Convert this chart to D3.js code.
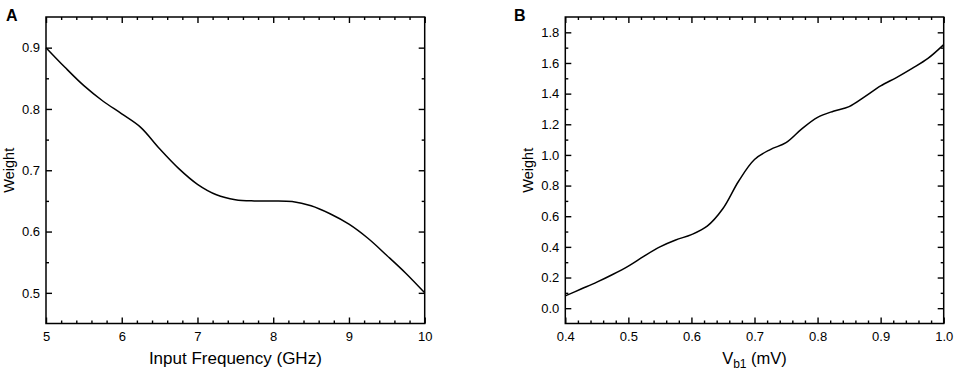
<!DOCTYPE html>
<html>
<head>
<meta charset="utf-8">
<script src="https://cdn.jsdelivr.net/npm/d3@7"></script>
<style>
  body { margin: 0; background: #fff; }
  svg { display: block; font-family: Arial, "Liberation Sans", sans-serif; }
</style>
</head>
<body>
<svg id="chart" width="957" height="373"></svg>
<script>
// Panel A: weight vs input frequency
const freqGHz = [5.0, 5.25, 5.5, 5.75, 6.0, 6.25, 6.5, 6.75, 7.0, 7.25, 7.5,
  7.75, 8.0, 8.25, 8.5, 8.75, 9.0, 9.25, 9.5, 9.75, 10.0];
const weightA = [0.900, 0.868, 0.838, 0.813, 0.792, 0.770, 0.735, 0.703, 0.677, 0.660, 0.652,
  0.650, 0.650, 0.649, 0.642, 0.629, 0.612, 0.589, 0.561, 0.532, 0.500];
const ticksA_x = [5, 6, 7, 8, 9, 10];
const ticksA_y = [0.5, 0.6, 0.7, 0.8, 0.9];

// Panel B: weight vs Vb1
const vb1 = [0.400, 0.425, 0.450, 0.475, 0.500, 0.525, 0.550, 0.575, 0.600, 0.625, 0.650,
  0.675, 0.700, 0.725, 0.750, 0.775, 0.800, 0.825, 0.850, 0.875, 0.900, 0.925, 0.950, 0.975, 1.000];
const weightB = [0.08, 0.125, 0.17, 0.22, 0.275, 0.34, 0.40, 0.445, 0.48, 0.535, 0.65,
  0.83, 0.97, 1.035, 1.08, 1.17, 1.245, 1.285, 1.315, 1.38, 1.45, 1.505, 1.565, 1.63, 1.72];
const ticksB_x = [0.4, 0.5, 0.6, 0.7, 0.8, 0.9, 1.0];
const ticksB_y = [0.0, 0.2, 0.4, 0.6, 0.8, 1.0, 1.2, 1.4, 1.6, 1.8];

const svg = d3.select('#chart');
const plotTop = 17, plotBottom = 323.5;

function drawPanel(opts) {
  const { left, right, xDomain, yDomain, xs, ys, xTicks, yTicks, xMinorStep, yMinorStep, xFmt, yFmt } = opts;

  const x = d3.scaleLinear().domain(xDomain).range([left, right]);
  const y = d3.scaleLinear().domain(yDomain).range([plotBottom, plotTop]);

  const g = svg.append('g');

  // minor tick values
  const xMinor = d3.range(xDomain[0], xDomain[1] + 1e-9, xMinorStep)
    .filter((v) => !xTicks.some((t) => Math.abs(t - v) < 1e-6));
  const yMinor = d3.range(yTicks[0] - yMinorStep, yDomain[1], yMinorStep)
    .filter((v) => v > yDomain[0] && !yTicks.some((t) => Math.abs(t - v) < 1e-6));

  const addAxis = (axis, transform) => {
    const a = g.append('g').attr('transform', transform).call(axis);
    a.select('.domain').remove();
    a.selectAll('line').attr('stroke', '#000').attr('stroke-width', 1.4);
    a.selectAll('text').attr('fill', '#000').style('font-size', '13px');
    return a;
  };

  // major ticks (pointing inside) on all four sides
  addAxis(d3.axisBottom(x).tickValues(xTicks).tickSize(-6).tickPadding(8.5).tickFormat(xFmt), `translate(0,${plotBottom})`);
  addAxis(d3.axisTop(x).tickValues(xTicks).tickSize(-6).tickFormat(''), `translate(0,${plotTop})`);
  addAxis(d3.axisLeft(y).tickValues(yTicks).tickSize(-6).tickPadding(6).tickFormat(yFmt), `translate(${left},0)`);
  addAxis(d3.axisRight(y).tickValues(yTicks).tickSize(-6).tickFormat(''), `translate(${right},0)`);

  // minor ticks
  addAxis(d3.axisBottom(x).tickValues(xMinor).tickSize(-3).tickFormat(''), `translate(0,${plotBottom})`);
  addAxis(d3.axisTop(x).tickValues(xMinor).tickSize(-3).tickFormat(''), `translate(0,${plotTop})`);
  addAxis(d3.axisLeft(y).tickValues(yMinor).tickSize(-3).tickFormat(''), `translate(${left},0)`);
  addAxis(d3.axisRight(y).tickValues(yMinor).tickSize(-3).tickFormat(''), `translate(${right},0)`);

  // frame
  g.append('rect')
    .attr('x', left).attr('y', plotTop)
    .attr('width', right - left).attr('height', plotBottom - plotTop)
    .attr('fill', 'none').attr('stroke', '#000').attr('stroke-width', 1.5);

  // curve
  const line = d3.line()
    .x((d) => x(d[0]))
    .y((d) => y(d[1]))
    .curve(d3.curveCatmullRom.alpha(0.5));

  g.append('path')
    .datum(d3.zip(xs, ys))
    .attr('d', line)
    .attr('fill', 'none')
    .attr('stroke', '#000')
    .attr('stroke-width', 1.5);

  // y label
  g.append('text')
    .attr('transform', `translate(${left - 32.5},${(plotTop + plotBottom) / 2}) rotate(-90)`)
    .attr('text-anchor', 'middle')
    .style('font-size', '14.5px')
    .text('Weight');

  return g;
}

const gA = drawPanel({
  left: 46, right: 424.7,
  xDomain: [5, 10], yDomain: [0.45, 0.95],
  xs: freqGHz, ys: weightA,
  xTicks: ticksA_x, yTicks: ticksA_y,
  xMinorStep: 0.2, yMinorStep: 0.05,
  xFmt: d3.format('d'), yFmt: d3.format('.1f')
});

gA.append('text')
  .attr('x', (46 + 424.7) / 2).attr('y', 364)
  .attr('text-anchor', 'middle')
  .style('font-size', '17px')
  .text('Input Frequency (GHz)');

gA.append('text')
  .attr('x', 6).attr('y', 20.7)
  .style('font-size', '16px').style('font-weight', 'bold')
  .text('A');

const gB = drawPanel({
  left: 565.3, right: 943.7,
  xDomain: [0.4, 1.0], yDomain: [-0.1, 1.9],
  xs: vb1, ys: weightB,
  xTicks: ticksB_x, yTicks: ticksB_y,
  xMinorStep: 0.02, yMinorStep: 0.1,
  xFmt: d3.format('.1f'), yFmt: d3.format('.1f')
});

const xLabelB = gB.append('text')
  .attr('x', (565.3 + 943.7) / 2).attr('y', 364)
  .attr('text-anchor', 'middle')
  .style('font-size', '16.5px');
xLabelB.append('tspan').text('V');
xLabelB.append('tspan').attr('dy', 4).style('font-size', '12px').text('b1');
xLabelB.append('tspan').attr('dy', -4).text(' (mV)');

gB.append('text')
  .attr('x', 514).attr('y', 21)
  .style('font-size', '16px').style('font-weight', 'bold')
  .text('B');
</script>
</body>
</html>
